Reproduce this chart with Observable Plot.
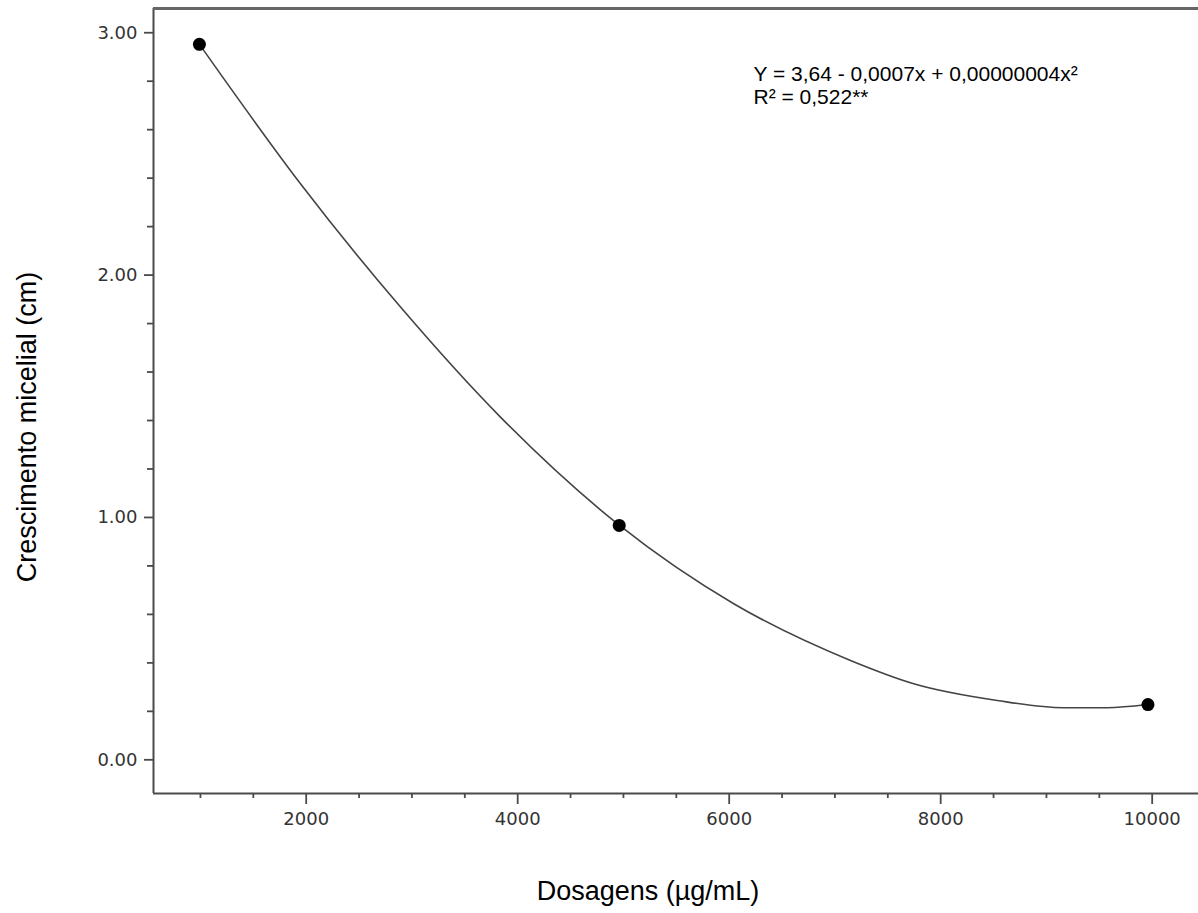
<!DOCTYPE html>
<html><head><meta charset="utf-8">
<script src="https://cdn.jsdelivr.net/npm/d3@7"></script>
<script src="https://cdn.jsdelivr.net/npm/@observablehq/plot@0.6"></script>
<style>body{margin:0;background:#fff}</style>
</head><body><div id="chart"></div>
<script>
// Observed means
const doses = [990, 4960, 9960];
const growth = [2.952, 0.967, 0.228];
// Fitted curve
const curveX = [991, 1946, 2892, 3837, 4963, 6043, 7147, 7745, 8534, 9161, 9575, 9953];
const curveY = [2.952, 2.377, 1.868, 1.414, 0.967, 0.644, 0.410, 0.314, 0.245, 0.215, 0.215, 0.228];
// Axes
const xMajorTicks = [2000, 4000, 6000, 8000, 10000];
const xMinorTicks = [1000, 1500, 2500, 3000, 3500, 4500, 5000, 5500, 6500, 7000, 7500, 8500, 9000, 9500];
const yMajorTicks = [0, 1, 2, 3];
const yMinorTicks = [0.2, 0.4, 0.6, 0.8, 1.2, 1.4, 1.6, 1.8, 2.2, 2.4, 2.6, 2.8];
const xDomain = [556, 10438];
const yDomain = [-0.139, 3.1];
const xTitle = "Dosagens (µg/mL)";
const yTitle = "Crescimento micelial (cm)";
const equationLines = ["Y = 3,64 - 0,0007x + 0,00000004x²", "R² = 0,522**"];
const equationX = [6230, 6230];
const equationY = [2.830, 2.734];

const points = doses.map((d, i) => ({x: d, y: growth[i]}));
const curve = curveX.map((d, i) => ({x: d, y: curveY[i]}));
const eq = equationLines.map((t, i) => ({t, x: equationX[i], y: equationY[i]}));

const axisColor = "#4a4a4a";
const plot = Plot.plot({
  width: 1198,
  height: 913,
  marginLeft: 153,
  marginRight: 0,
  marginTop: 8,
  marginBottom: 120,
  style: {fontFamily: "DejaVu Sans", fontSize: "18px", color: "#333", background: "#fff"},
  x: {domain: xDomain, axis: null},
  y: {domain: yDomain, axis: null},
  marks: [
    Plot.axisX(xMinorTicks, {tickSize: 5, text: null, label: null, stroke: axisColor, strokeWidth: 1.8}),
    Plot.axisX(xMajorTicks, {tickSize: 11, tickPadding: 8, tickFormat: d3.format("d"), stroke: axisColor, strokeWidth: 1.8, fill: "#333", label: null}),
    Plot.axisY(yMinorTicks, {tickSize: 6, text: null, label: null, stroke: axisColor, strokeWidth: 1.8}),
    Plot.axisY(yMajorTicks, {tickSize: 9, tickPadding: 7, tickFormat: d3.format(".2f"), stroke: axisColor, strokeWidth: 1.8, fill: "#333", label: null}),
    Plot.ruleX([xDomain[0]], {stroke: axisColor, strokeWidth: 2}),
    Plot.ruleY([yDomain[0]], {stroke: axisColor, strokeWidth: 2}),
    Plot.ruleY([yDomain[1]], {stroke: "#666", strokeWidth: 3}),
    Plot.line(curve, {x: "x", y: "y", curve: "monotone-x", stroke: "#444", strokeWidth: 1.6}),
    Plot.dot(points, {x: "x", y: "y", r: 6.5, fill: "#000", stroke: "none"}),
    Plot.text(eq, {x: "x", y: "y", text: "t", textAnchor: "start", lineAnchor: "middle", fontFamily: "Liberation Sans, Arial", fontSize: 21, fill: "#000"}),
    Plot.text([xTitle], {frameAnchor: "bottom", textAnchor: "middle", dx: -28, dy: 98, lineAnchor: "middle", fontFamily: "Liberation Sans, Arial", fontSize: 27, fill: "#000"}),
    Plot.text([yTitle], {frameAnchor: "left", textAnchor: "middle", dx: -126, dy: 26, rotate: -90, lineAnchor: "middle", fontFamily: "Liberation Sans, Arial", fontSize: 27, fill: "#000"})
  ]
});
document.getElementById("chart").appendChild(plot);
</script>
</body></html>
